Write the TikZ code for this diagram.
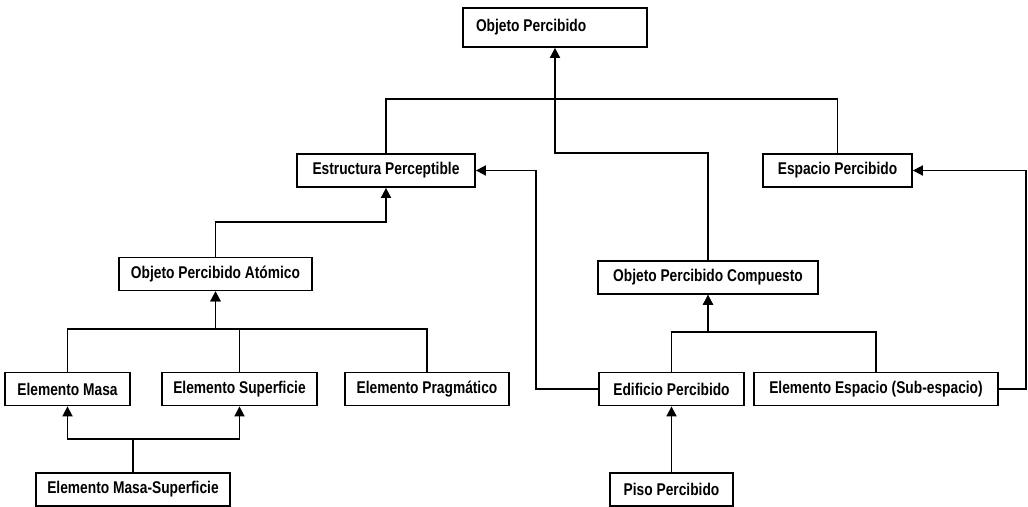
\documentclass[tikz,border=0pt]{standalone}
\usepackage{fontspec}
\setmainfont{Liberation Sans}[FakeStretch=0.81]
\usetikzlibrary{arrows.meta}

\begin{document}
\begin{tikzpicture}[x=1pt, y=-1pt,
    clase/.style={draw, line width=1.8pt, minimum height=33pt, inner xsep=0pt, inner ysep=0pt,
      font=\fontsize{17}{20}\selectfont\bfseries},
    enlace/.style={line width=1.8pt},
    hereda/.style={enlace, -{Triangle[length=10pt,width=10pt]}}]
  \useasboundingbox (0,0) rectangle (1028,506);
  \node[clase, minimum width=184pt, minimum height=39pt] (obj) at (555,27.5) {\makebox[158pt][l]{Objeto Percibido}};
  \node[clase, minimum width=178pt] (estr) at (386,170.5) {Estructura Perceptible};
  \node[clase, minimum width=149pt] (esp) at (837.5,170.5) {Espacio Percibido};
  \node[clase, minimum width=193pt] (atom) at (215.5,274) {Objeto Percibido Atómico};
  \node[clase, minimum width=220pt] (comp) at (708,277.5) {Objeto Percibido Compuesto};
  \node[clase, minimum width=125pt] (masa) at (67.5,389) {Elemento Masa};
  \node[clase, minimum width=155pt] (sup) at (239.5,389) {Elemento Superficie};
  \node[clase, minimum width=164pt] (prag) at (427,389) {Elemento Pragmático};
  \node[clase, minimum width=145pt] (edif) at (671.5,389) {Edificio Percibido};
  \node[clase, minimum width=244pt] (subesp) at (876,389) {Elemento Espacio (Sub-espacio)};
  \node[clase, minimum width=194pt] (masup) at (133,489.5) {Elemento Masa-Superficie};
  \node[clase, minimum width=123pt] (piso) at (671.5,489.5) {Piso Percibido};

  \draw[hereda] (comp.north) -- ++(0,-107) -| (obj.south);
  \draw[enlace] (estr.north) -- ++(0,-54) -| (esp.north);
  \draw[hereda] (edif.west) -- ++(-62,0) |- (estr.east);
  \draw[hereda] (subesp.east) -- ++(27,0) |- (esp.east);
  \draw[hereda] (atom.north) -- ++(0,-35) -| (estr.south);
  \draw[hereda] (masa.north) -- ++(0,-42.5) -| (atom.south);
  \draw[hereda] (prag.north) -- ++(0,-42.5) -| (atom.south);
  \draw[enlace] (sup.north) -- ++(0,-42.5);
  \draw[hereda] (masup.north) -- ++(0,-33.5) -| (masa.south);
  \draw[hereda] (masup.north) -- ++(0,-33.5) -| (sup.south);
  \draw[hereda] (edif.north) -- ++(0,-39.5) -| (comp.south);
  \draw[hereda] (subesp.north) -- ++(0,-39.5) -| (comp.south);
  \draw[hereda] (piso) -- (edif);
\end{tikzpicture}
\end{document}
